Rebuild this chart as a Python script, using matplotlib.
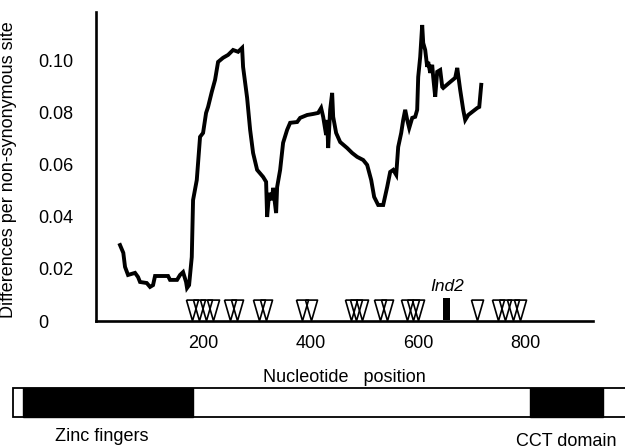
import matplotlib
matplotlib.use("Agg")
import matplotlib.pyplot as plt
from matplotlib.patches import Rectangle

plt.rcParams['font.family'] = ['Liberation Sans', 'DejaVu Sans']

# sliding-window divergence profile
position = [45.6, 51.7, 54.9, 60.5, 73.5, 79.1, 82.8, 95.3, 101.4, 107.0, 110.7, 134.9,
            138.6, 151.6, 157.2, 162.8, 168.4, 170.2, 174.0, 179.0, 181.4, 188.3, 194.4,
            200.0, 205.6, 209.3, 216.2, 222.3, 227.9, 237.2, 246.5, 255.8, 265.1, 272.6,
            274.4, 281.9, 287.5, 293.0, 300.5, 311.6, 317.2, 319.1, 322.8, 328.4, 330.2,
            335.8, 337.7, 343.3, 348.8, 356.3, 361.9, 374.9, 380.5, 393.5, 404.7, 414.0,
            419.5, 423.3, 428.8, 430.7, 432.6, 436.3, 440.0, 441.9, 447.4, 454.9, 467.9,
            477.2, 486.5, 497.7, 505.1, 512.6, 518.1, 525.6, 534.9, 542.3, 547.9, 553.5,
            559.1, 562.8, 568.4, 572.1, 575.8, 579.6, 583.3, 588.9, 594.4, 598.1, 600.0,
            603.7, 607.4, 609.3, 613.0, 616.7, 618.6, 622.3, 626.0, 627.9, 631.6, 635.3,
            640.9, 644.7, 646.5, 659.5, 668.8, 672.6, 678.1, 683.7, 687.4, 693.0, 709.8,
            713.5, 717.2]
divergence = [0.0292, 0.0262, 0.0208, 0.0177, 0.0185, 0.0169, 0.0150, 0.0146, 0.0131,
              0.0138, 0.0173, 0.0173, 0.0158, 0.0158, 0.0177, 0.0188, 0.0150, 0.0127,
              0.0138, 0.0246, 0.0465, 0.0542, 0.0708, 0.0723, 0.0800, 0.0823, 0.0881,
              0.0927, 0.0996, 0.1012, 0.1023, 0.1042, 0.1035, 0.1050, 0.0977, 0.0858,
              0.0735, 0.0646, 0.0581, 0.0554, 0.0535, 0.0400, 0.0492, 0.0465, 0.0512,
              0.0415, 0.0515, 0.0581, 0.0685, 0.0735, 0.0762, 0.0765, 0.0781, 0.0792,
              0.0796, 0.0800, 0.0819, 0.0785, 0.0715, 0.0773, 0.0665, 0.0812, 0.0877,
              0.0785, 0.0723, 0.0688, 0.0665, 0.0646, 0.0631, 0.0619, 0.0600, 0.0542,
              0.0477, 0.0446, 0.0446, 0.0515, 0.0573, 0.0581, 0.0562, 0.0669, 0.0723,
              0.0773, 0.0812, 0.0773, 0.0742, 0.0781, 0.0785, 0.0812, 0.0938, 0.1015,
              0.1138, 0.1069, 0.1042, 0.0977, 0.0996, 0.0954, 0.0985, 0.0938, 0.0862,
              0.0958, 0.0965, 0.0900, 0.0896, 0.0919, 0.0935, 0.0973, 0.0888, 0.0812,
              0.0773, 0.0792, 0.0819, 0.0823, 0.0908]

# nonsynonymous substitution sites (open triangles)
site_positions = [179.5, 192.6, 205.6, 218.6, 250.2, 263.3, 304.2, 317.2, 384.2, 400.9,
                  475.4, 484.7, 495.8, 529.3, 542.3, 579.6, 590.7, 600.0, 709.8, 748.8,
                  761.9, 776.8, 789.8]
site_level = 0.0044

# indel
indel_label = "Ind2"
indel_start = 646.5
indel_end = 659.5
indel_height = 0.0085

# protein domains
domain_names = ["Zinc fingers", "CCT domain"]
domain_start = [-135.0, 808.0]
domain_end = [181.0, 944.0]
protein_start = -153.5
protein_end = 1000.0

x_ticks = [200, 400, 600, 800]
y_ticks = [0, 0.02, 0.04, 0.06, 0.08, 0.10]
y_tick_labels = ["0", "0.02", "0.04", "0.06", "0.08", "0.10"]

W, H = 625, 448
fig = plt.figure(figsize=(W / 100, H / 100), dpi=100)

ax = fig.add_axes([95.5 / W, 1 - 321 / H, (593 - 95.5) / W, (321 - 12) / H])
ax.plot(position, divergence, color='black', lw=2.8, solid_joinstyle='miter')

tri = [(-0.29, 0.5), (0.29, 0.5), (0.0, -0.5), (-0.29, 0.5)]
ax.plot(site_positions, [site_level] * len(site_positions), linestyle='none',
        marker=tri, markersize=15, mfc='none', mec='black', mew=1.2)

ax.bar([(indel_start + indel_end) / 2], [indel_height], width=indel_end - indel_start,
       color='black', bottom=0.0003)
ax.text((indel_start + indel_end) / 2, 0.0103, indel_label, style='italic',
        ha='center', va='bottom', fontsize=12.5)

ax.set_xlim(0, 925)
ax.set_ylim(0, 0.1188)
ax.set_xticks(x_ticks)
ax.set_xticklabels([str(t) for t in x_ticks])
ax.set_yticks(y_ticks)
ax.set_yticklabels(y_tick_labels)
ax.tick_params(length=0, labelsize=13)
ax.tick_params(axis='x', pad=10)
ax.tick_params(axis='y', pad=41)
for lab in ax.get_yticklabels():
    lab.set_horizontalalignment('left')
for s in ['top', 'right']:
    ax.spines[s].set_visible(False)
for s in ['left', 'bottom']:
    ax.spines[s].set_linewidth(1.9)
ax.set_xlabel("Nucleotide   position", fontsize=13, labelpad=12)
ax.set_ylabel("Differences per non-synonymous site", fontsize=13)
ax.yaxis.set_label_coords(-0.158, 0.49)

# domain diagram, same horizontal scale
x0 = -95.5 / 0.5375
x1 = (W - 95.5) / 0.5375
ax2 = fig.add_axes([0, 0, 1, 70 / H])
ax2.set_xlim(x0, x1)
ax2.set_ylim(448, 378)
ax2.axis('off')
ax2.add_patch(Rectangle((protein_start, 388), protein_end - protein_start, 29,
                        facecolor='white', edgecolor='black', lw=1.3))
label_dx = [-12, 0]
label_y = [436, 441]
for name, a, b, dx, ly in zip(domain_names, domain_start, domain_end, label_dx, label_y):
    ax2.add_patch(Rectangle((a, 388), b - a, 29, facecolor='black', edgecolor='black', lw=1.0))
    ax2.text((a + b) / 2 + dx, ly, name, ha='center', va='center', fontsize=13)

fig.savefig("out.png", dpi=100)
